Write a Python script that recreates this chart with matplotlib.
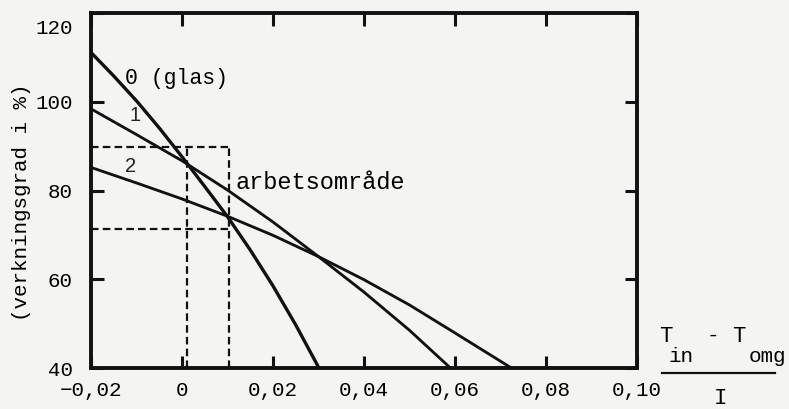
import matplotlib
matplotlib.use('Agg')
import matplotlib.pyplot as plt
from matplotlib.lines import Line2D
from matplotlib.transforms import ScaledTranslation

# ---- data ----
x_glas = [-0.02, -0.015, -0.01, -0.005, 0.0, 0.005, 0.01, 0.015, 0.02, 0.025, 0.0301]
eta_glas = [111.1, 105.8, 100.2, 94.1, 87.6, 80.9, 74.1, 66.6, 58.5, 49.7, 40.0]

x_one = [-0.02, -0.01, 0.0, 0.01, 0.02, 0.03, 0.04, 0.05, 0.059]
eta_one = [98.4, 92.6, 86.7, 80.1, 72.9, 65.1, 57.1, 48.5, 40.0]

x_two = [-0.02, -0.01, 0.0, 0.01, 0.02, 0.03, 0.04, 0.05, 0.06, 0.0724]
eta_two = [85.2, 81.7, 78.1, 74.2, 69.9, 65.1, 59.9, 54.2, 47.9, 40.0]

work_x = [0.001, 0.0103]      # arbetsområde, x-limits
work_y = [71.3, 89.8]         # arbetsområde, y-limits

xticks = [-0.02, 0.0, 0.02, 0.04, 0.06, 0.08, 0.10]
xticklabels = ['\u22120,02', '0', '0,02', '0,04', '0,06', '0,08', '0,10']
yticks = [40, 60, 80, 100, 120]
yticklabels = ['40', '60', '80', '100', '120']

W, H = 789, 409
BG = '#f4f4f2'
MONO = ['Liberation Mono', 'DejaVu Sans Mono']
SANS = ['Liberation Sans', 'DejaVu Sans']

fig = plt.figure(figsize=(W / 100, H / 100), dpi=100, facecolor=BG)
ax = fig.add_axes([91 / W, 1 - 368 / H, (637 - 91) / W, (368 - 13) / H])
ax.set_facecolor(BG)

lw = 2.4
ax.plot(x_glas, eta_glas, color='#111111', lw=lw, solid_capstyle='butt')
ax.plot(x_one, eta_one, color='#111111', lw=lw * 0.85, solid_capstyle='butt')
ax.plot(x_two, eta_two, color='#111111', lw=lw * 0.85, solid_capstyle='butt')

dash = dict(color='#111111', lw=1.6, dashes=(3.4, 1.9))
ax.plot([-0.02, work_x[1]], [work_y[1], work_y[1]], **dash)
ax.plot([-0.02, work_x[1]], [work_y[0], work_y[0]], **dash)
ax.plot([work_x[0], work_x[0]], [40, work_y[1]], **dash)
ax.plot([work_x[1], work_x[1]], [40, work_y[1]], **dash)

ax.set_xlim(-0.02, 0.10)
ax.set_ylim(40, 120)

for s in ax.spines.values():
    s.set_linewidth(2.8)
    s.set_color('#111111')

ax.set_xticks(xticks)
ax.set_xticklabels(xticklabels, family=MONO, fontsize=15)
ax.set_yticks(yticks)
ax.set_yticklabels(yticklabels, family=MONO, fontsize=15)
ax.tick_params(axis='both', direction='in', length=9, width=2.2, color='#111111',
               top=True, right=True)
ax.tick_params(axis='x', pad=9)
ax.tick_params(axis='y', pad=13)
# the "120" label sits a little below the top edge in the reference
top_lab = ax.get_yticklabels()[-1]
top_lab.set_transform(top_lab.get_transform() +
                      ScaledTranslation(0, -0.13, fig.dpi_scale_trans))

# labels on curves
ax.text(-0.0126, 105.3, '0 (glas)', family=MONO, fontsize=15.5, ha='left', va='center')
ax.text(-0.0104, 97.0, '1', family=SANS, fontsize=14.5,
        ha='center', va='center', color='#222222')
ax.text(-0.0113, 85.4, '2', family=SANS, fontsize=14.5,
        ha='center', va='center', color='#222222')
ax.text(0.0118, 81.9, 'arbetsområde', family=MONO, fontsize=17, ha='left', va='center')

# y label
fig.text(22 / W, 1 - 202 / H, '(verkningsgrad i %)', family=MONO, fontsize=15,
         rotation=90, ha='center', va='center')

# x label as a fraction
def ftxt(px, py, s, size=15):
    fig.text(px / W, 1 - py / H, s, family=MONO, fontsize=size, ha='center', va='center')

ftxt(666, 337, 'T', 16)
ftxt(681, 356, 'in')
ftxt(713, 335, '-')
ftxt(739, 337, 'T', 16)
ftxt(767, 357, 'omg')
ftxt(720, 399, 'I', 16)
fig.add_artist(Line2D([662 / W, 775 / W], [1 - 373 / H, 1 - 373 / H],
                      transform=fig.transFigure, color='#111111', lw=1.6))

fig.savefig('out.png', dpi=100, facecolor=BG)
